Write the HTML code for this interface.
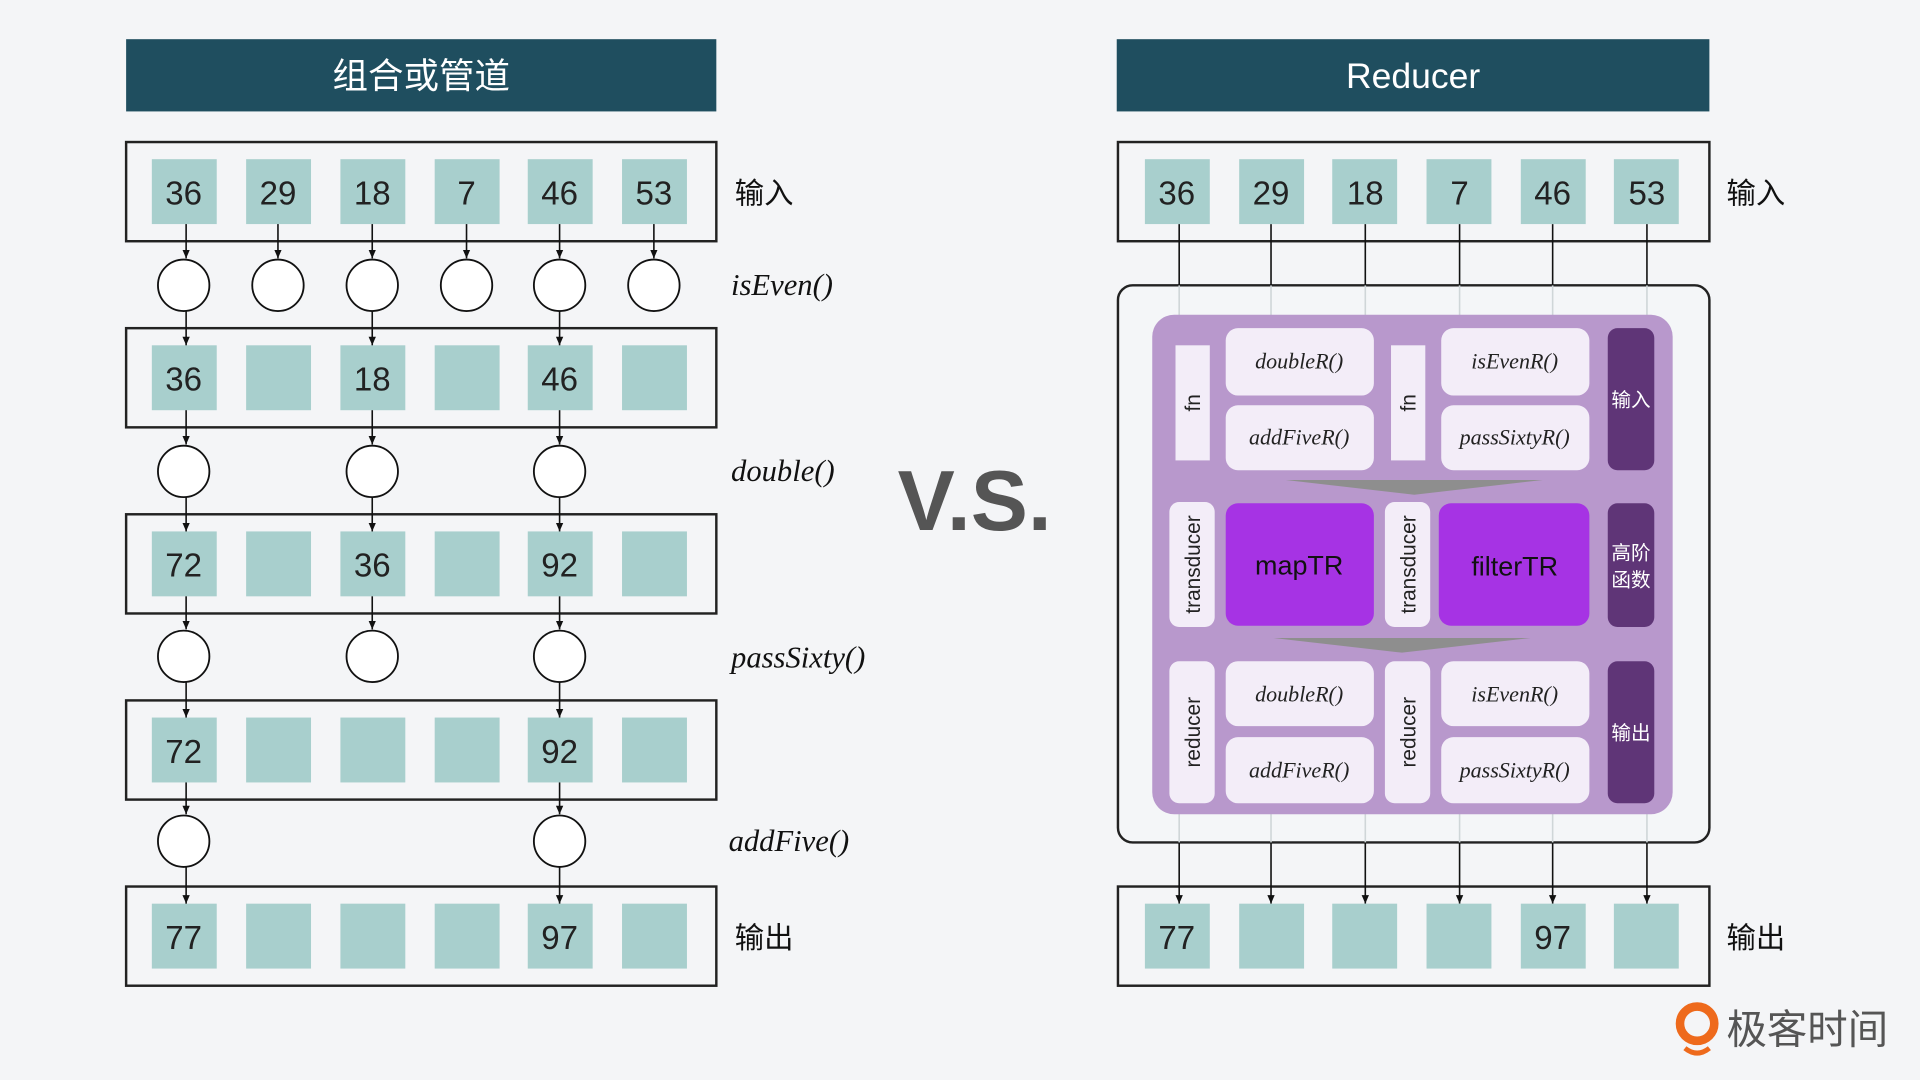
<!DOCTYPE html>
<html><head><meta charset="utf-8"><style>html,body{margin:0;padding:0;background:#f4f5f7}svg{display:block}</style></head><body>
<svg width="1920" height="1080" viewBox="0 0 1568 882" xmlns="http://www.w3.org/2000/svg" font-family="Liberation Sans, Noto Sans CJK SC, sans-serif">
<defs><marker id="a" markerWidth="8" markerHeight="8" refX="7" refY="4" orient="auto" markerUnits="userSpaceOnUse"><path d="M0,1 L7,4 L0,7z" fill="#111"/></marker></defs>
<rect width="1568" height="882" fill="#f4f5f7"/>
<!-- LEFT -->
<rect x="103" y="32" width="482" height="59" fill="#1f4e5f"/>
<text x="344" y="72" font-size="29" fill="#fff" text-anchor="middle">组合或管道</text>
<g fill="none" stroke="#222" stroke-width="2">
<rect x="103" y="116" width="482" height="81"/><rect x="103" y="268" width="482" height="81"/><rect x="103" y="420" width="482" height="81"/><rect x="103" y="572" width="482" height="81"/><rect x="103" y="724" width="482" height="81"/>
</g>
<g fill="#a8cfcd">
<rect x="124" y="130" width="53" height="53"/><rect x="201" y="130" width="53" height="53"/><rect x="278" y="130" width="53" height="53"/><rect x="355" y="130" width="53" height="53"/><rect x="431" y="130" width="53" height="53"/><rect x="508" y="130" width="53" height="53"/>
<rect x="124" y="282" width="53" height="53"/><rect x="201" y="282" width="53" height="53"/><rect x="278" y="282" width="53" height="53"/><rect x="355" y="282" width="53" height="53"/><rect x="431" y="282" width="53" height="53"/><rect x="508" y="282" width="53" height="53"/>
<rect x="124" y="434" width="53" height="53"/><rect x="201" y="434" width="53" height="53"/><rect x="278" y="434" width="53" height="53"/><rect x="355" y="434" width="53" height="53"/><rect x="431" y="434" width="53" height="53"/><rect x="508" y="434" width="53" height="53"/>
<rect x="124" y="586" width="53" height="53"/><rect x="201" y="586" width="53" height="53"/><rect x="278" y="586" width="53" height="53"/><rect x="355" y="586" width="53" height="53"/><rect x="431" y="586" width="53" height="53"/><rect x="508" y="586" width="53" height="53"/>
<rect x="124" y="738" width="53" height="53"/><rect x="201" y="738" width="53" height="53"/><rect x="278" y="738" width="53" height="53"/><rect x="355" y="738" width="53" height="53"/><rect x="431" y="738" width="53" height="53"/><rect x="508" y="738" width="53" height="53"/>
</g>
<g font-size="27" fill="#222" text-anchor="middle">
<text x="150" y="167">36</text><text x="227" y="167">29</text><text x="304" y="167">18</text><text x="381" y="167">7</text><text x="457" y="167">46</text><text x="534" y="167">53</text>
<text x="150" y="319">36</text><text x="304" y="319">18</text><text x="457" y="319">46</text>
<text x="150" y="471">72</text><text x="304" y="471">36</text><text x="457" y="471">92</text>
<text x="150" y="623">72</text><text x="457" y="623">92</text>
<text x="150" y="775">77</text><text x="457" y="775">97</text>
</g>
<g fill="#fff" stroke="#111" stroke-width="1.5">
<circle cx="150" cy="233" r="21"/><circle cx="227" cy="233" r="21"/><circle cx="304" cy="233" r="21"/><circle cx="381" cy="233" r="21"/><circle cx="457" cy="233" r="21"/><circle cx="534" cy="233" r="21"/>
<circle cx="150" cy="385" r="21"/><circle cx="304" cy="385" r="21"/><circle cx="457" cy="385" r="21"/>
<circle cx="150" cy="536" r="21"/><circle cx="304" cy="536" r="21"/><circle cx="457" cy="536" r="21"/>
<circle cx="150" cy="687" r="21"/><circle cx="457" cy="687" r="21"/>
</g>
<g stroke="#111" stroke-width="1.3" marker-end="url(#a)">
<line x1="152" y1="183" x2="152" y2="211"/><line x1="227" y1="183" x2="227" y2="211"/><line x1="304" y1="183" x2="304" y2="211"/><line x1="381" y1="183" x2="381" y2="211"/><line x1="457" y1="183" x2="457" y2="211"/><line x1="534" y1="183" x2="534" y2="211"/>
<line x1="152" y1="254" x2="152" y2="282"/><line x1="304" y1="254" x2="304" y2="282"/><line x1="457" y1="254" x2="457" y2="282"/>
<line x1="152" y1="335" x2="152" y2="363"/><line x1="304" y1="335" x2="304" y2="363"/><line x1="457" y1="335" x2="457" y2="363"/>
<line x1="152" y1="406" x2="152" y2="434"/><line x1="304" y1="406" x2="304" y2="434"/><line x1="457" y1="406" x2="457" y2="434"/>
<line x1="152" y1="487" x2="152" y2="514"/><line x1="304" y1="487" x2="304" y2="514"/><line x1="457" y1="487" x2="457" y2="514"/>
<line x1="152" y1="557" x2="152" y2="586"/><line x1="457" y1="557" x2="457" y2="586"/>
<line x1="152" y1="639" x2="152" y2="665"/><line x1="457" y1="639" x2="457" y2="665"/>
<line x1="152" y1="708" x2="152" y2="738"/><line x1="457" y1="708" x2="457" y2="738"/>
</g>
<g font-family="Liberation Serif, serif" font-style="italic" font-size="25" fill="#111">
<text x="597" y="241">isEven()</text><text x="597" y="393">double()</text><text x="597" y="545">passSixty()</text><text x="595" y="695">addFive()</text>
</g>
<text x="600" y="166" font-size="24" fill="#111">输入</text>
<text x="600" y="774" font-size="24" fill="#111">输出</text>
<text x="796" y="433" font-size="70" fill="#555" text-anchor="middle" font-weight="bold">V.S.</text>
<!-- RIGHT -->
<rect x="912" y="32" width="484" height="59" fill="#1f4e5f"/>
<text x="1154" y="72" font-size="29" fill="#fff" text-anchor="middle">Reducer</text>
<rect x="913" y="116" width="483" height="81" fill="none" stroke="#222" stroke-width="2"/>
<rect x="913" y="724" width="483" height="81" fill="none" stroke="#222" stroke-width="2"/>
<rect x="913" y="233" width="483" height="455" rx="12" fill="#f4f6f8" stroke="#222" stroke-width="2"/>
<g stroke="#cfd6d8" stroke-width="1.3"><line x1="963" y1="233" x2="963" y2="688"/><line x1="1038" y1="233" x2="1038" y2="688"/><line x1="1115" y1="233" x2="1115" y2="688"/><line x1="1192" y1="233" x2="1192" y2="688"/><line x1="1268" y1="233" x2="1268" y2="688"/><line x1="1345" y1="233" x2="1345" y2="688"/></g>
<g stroke="#111" stroke-width="1.3"><line x1="963" y1="183" x2="963" y2="233"/><line x1="1038" y1="183" x2="1038" y2="233"/><line x1="1115" y1="183" x2="1115" y2="233"/><line x1="1192" y1="183" x2="1192" y2="233"/><line x1="1268" y1="183" x2="1268" y2="233"/><line x1="1345" y1="183" x2="1345" y2="233"/></g>
<g stroke="#111" stroke-width="1.3" marker-end="url(#a)"><line x1="963" y1="688" x2="963" y2="738"/><line x1="1038" y1="688" x2="1038" y2="738"/><line x1="1115" y1="688" x2="1115" y2="738"/><line x1="1192" y1="688" x2="1192" y2="738"/><line x1="1268" y1="688" x2="1268" y2="738"/><line x1="1345" y1="688" x2="1345" y2="738"/></g>
<g fill="#a8cfcd">
<rect x="935" y="130" width="53" height="53"/><rect x="1012" y="130" width="53" height="53"/><rect x="1088" y="130" width="53" height="53"/><rect x="1165" y="130" width="53" height="53"/><rect x="1242" y="130" width="53" height="53"/><rect x="1318" y="130" width="53" height="53"/>
<rect x="935" y="738" width="53" height="53"/><rect x="1012" y="738" width="53" height="53"/><rect x="1088" y="738" width="53" height="53"/><rect x="1165" y="738" width="53" height="53"/><rect x="1242" y="738" width="53" height="53"/><rect x="1318" y="738" width="53" height="53"/>
</g>
<g font-size="27" fill="#222" text-anchor="middle">
<text x="961" y="167">36</text><text x="1038" y="167">29</text><text x="1115" y="167">18</text><text x="1192" y="167">7</text><text x="1268" y="167">46</text><text x="1345" y="167">53</text>
<text x="961" y="775">77</text><text x="1268" y="775">97</text>
</g>
<text x="1410" y="166" font-size="24" fill="#111">输入</text>
<text x="1410" y="774" font-size="24" fill="#111">输出</text>
<rect x="941" y="257" width="425" height="408" rx="18" fill="#b898cc"/>
<g fill="#f3edf8">
<rect x="960" y="282" width="28" height="94"/><rect x="1136" y="282" width="28" height="94"/>
<rect x="1001" y="268" width="121" height="55" rx="10"/><rect x="1001" y="331" width="121" height="53" rx="10"/>
<rect x="1177" y="268" width="121" height="55" rx="10"/><rect x="1177" y="331" width="121" height="53" rx="10"/>
<rect x="955" y="410" width="37" height="102" rx="8"/><rect x="1131" y="410" width="37" height="102" rx="8"/>
<rect x="955" y="540" width="37" height="116" rx="8"/><rect x="1131" y="540" width="37" height="116" rx="8"/>
<rect x="1001" y="540" width="121" height="53" rx="10"/><rect x="1001" y="602" width="121" height="54" rx="10"/>
<rect x="1177" y="540" width="121" height="53" rx="10"/><rect x="1177" y="602" width="121" height="54" rx="10"/>
</g>
<rect x="1001" y="411" width="121" height="100" rx="10" fill="#a633e4"/>
<rect x="1175" y="411" width="123" height="100" rx="10" fill="#a633e4"/>
<g fill="#5f3577"><rect x="1313" y="268" width="38" height="116" rx="8"/><rect x="1313" y="411" width="38" height="101" rx="8"/><rect x="1313" y="540" width="38" height="116" rx="8"/></g>
<path d="M1050,392 L1260,392 L1155,404z" fill="#8e8e8e"/>
<path d="M1040,521 L1250,521 L1145,533z" fill="#8e8e8e"/>
<g font-family="Liberation Serif, serif" font-style="italic" font-size="18" fill="#222" text-anchor="middle">
<text x="1061" y="301">doubleR()</text><text x="1061" y="363">addFiveR()</text><text x="1237" y="301">isEvenR()</text><text x="1237" y="363">passSixtyR()</text>
<text x="1061" y="573">doubleR()</text><text x="1061" y="635">addFiveR()</text><text x="1237" y="573">isEvenR()</text><text x="1237" y="635">passSixtyR()</text>
</g>
<g font-size="17" fill="#222" text-anchor="middle">
<text transform="translate(980,329) rotate(-90)">fn</text><text transform="translate(1156,329) rotate(-90)">fn</text>
<text transform="translate(980,461) rotate(-90)">transducer</text><text transform="translate(1156,461) rotate(-90)">transducer</text>
<text transform="translate(980,598) rotate(-90)">reducer</text><text transform="translate(1156,598) rotate(-90)">reducer</text>
</g>
<text x="1061" y="469" font-size="22" fill="#111" text-anchor="middle">mapTR</text>
<text x="1237" y="470" font-size="22" fill="#111" text-anchor="middle">filterTR</text>
<g font-size="16" fill="#fff" text-anchor="middle"><text x="1332" y="332">输入</text><text x="1332" y="457">高阶</text><text x="1332" y="479">函数</text><text x="1332" y="604">输出</text></g>
<!-- logo -->
<circle cx="1386" cy="836" r="14" fill="none" stroke="#ee6a1c" stroke-width="7"/>
<path d="M1376,856 Q1386,864 1396,856" stroke="#ee6a1c" stroke-width="4" fill="none"/>
<text x="1410" y="852" font-size="33" fill="#555">极客时间</text>
</svg>
</body></html>
